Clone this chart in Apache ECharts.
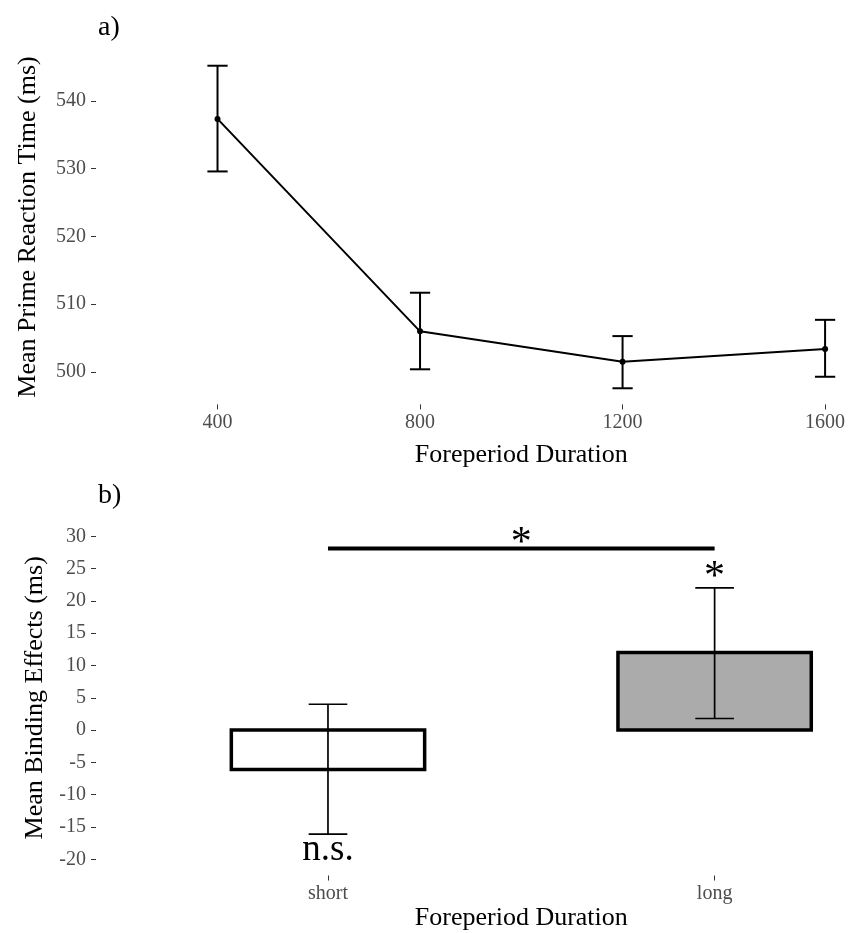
<!DOCTYPE html>
<html><head><meta charset="utf-8">
<script src="https://cdn.jsdelivr.net/npm/echarts@6/dist/echarts.min.js"></script>
<style>html,body{margin:0;padding:0;background:#fff}#c{width:848px;height:933px}</style>
</head><body><div id="c"></div>
<script>
// ---- panel a) data ----
const foreperiods = [400, 800, 1200, 1600];
const primeRT = [537.35, 506.0, 501.5, 503.4];
const primeRTLow = [529.6, 500.4, 497.6, 499.3];
const primeRTHigh = [545.2, 511.7, 505.3, 507.7];
const rtTicks = [500, 510, 520, 530, 540];

// ---- panel b) data ----
const conditions = ['short', 'long'];
const conditionPos = [1, 2];
const binding = [-6.1, 12.0];
const bindingLow = [-16.1, 1.8];
const bindingHigh = [4.0, 22.0];
const bindingFill = ['#ffffff', '#ababab'];
const bindingTicks = [-20, -15, -10, -5, 0, 5, 10, 15, 20, 25, 30];
const sigLine = [1, 2, 28.1];
const annoX = [1.5, 2, 1];
const annoY = [28.85, 23.6, -18.6];
const annoText = ['*', '*', 'n.s.'];
const annoSize = [42, 42, 37];

const FONT = "'Liberation Serif', 'Times New Roman', serif";
const tickColor = '#333333';
const labelColor = '#4d4d4d';

const chart = echarts.init(document.getElementById('c'), null, {renderer: 'canvas'});

function errRender(capW, lw) {
  return function (params, api) {
    const x = api.value(0), lo = api.value(1), hi = api.value(2);
    const pLo = api.coord([x, lo]), pHi = api.coord([x, hi]);
    const c1 = api.coord([x - capW / 2, lo]), c2 = api.coord([x + capW / 2, lo]);
    const half = (c2[0] - c1[0]) / 2;
    const st = {stroke: '#000', lineWidth: lw};
    return {type: 'group', children: [
      {type: 'line', shape: {x1: pLo[0], y1: pLo[1], x2: pHi[0], y2: pHi[1]}, style: st},
      {type: 'line', shape: {x1: pLo[0] - half, y1: pLo[1], x2: pLo[0] + half, y2: pLo[1]}, style: st},
      {type: 'line', shape: {x1: pHi[0] - half, y1: pHi[1], x2: pHi[0] + half, y2: pHi[1]}, style: st}
    ]};
  };
}

const option = {
  backgroundColor: '#ffffff',
  animation: false,
  title: [
    {text: 'a)', left: 93, top: 9, textStyle: {fontFamily: FONT, fontSize: 28, fontWeight: 'normal', color: '#000'}},
    {text: 'b)', left: 93, top: 477, textStyle: {fontFamily: FONT, fontSize: 28, fontWeight: 'normal', color: '#000'}}
  ],
  grid: [
    {left: 96, right: -98.6, top: 49.6, bottom: 528.6, outerBoundsMode: 'none', containLabel: false},
    {left: 96, right: -98.6, top: 520.1, bottom: 57.5, outerBoundsMode: 'none', containLabel: false}
  ],
  xAxis: [
    {
      type: 'value', gridIndex: 0, min: 160, max: 1840,
      name: 'Foreperiod Duration', nameLocation: 'middle', nameGap: 38,
      nameTextStyle: {fontFamily: FONT, fontSize: 26, color: '#000'},
      axisLine: {show: false, onZero: false}, splitLine: {show: false},
      axisTick: {show: true, length: 5, customValues: foreperiods, lineStyle: {color: tickColor, width: 1}},
      axisLabel: {customValues: foreperiods, margin: 8, fontFamily: FONT, fontSize: 20, color: labelColor,
        formatter: v => String(v)}
    },
    {
      type: 'value', gridIndex: 1, min: 0.4, max: 2.6,
      name: 'Foreperiod Duration', nameLocation: 'middle', nameGap: 30,
      nameTextStyle: {fontFamily: FONT, fontSize: 26, color: '#000'},
      axisLine: {show: false, onZero: false}, splitLine: {show: false},
      axisTick: {show: true, length: 5, customValues: conditionPos, lineStyle: {color: tickColor, width: 1}},
      axisLabel: {customValues: conditionPos, margin: 8, fontFamily: FONT, fontSize: 20, color: labelColor,
        formatter: v => conditions[Math.round(v) - 1]}
    }
  ],
  yAxis: [
    {
      type: 'value', gridIndex: 0, min: 495.22, max: 547.58,
      name: 'Mean Prime Reaction Time (ms)', nameLocation: 'middle', nameGap: 55, nameRotate: 90,
      nameTextStyle: {fontFamily: FONT, fontSize: 26, color: '#000'},
      axisLine: {show: false, onZero: false}, splitLine: {show: false},
      axisTick: {show: true, length: 5, customValues: rtTicks, lineStyle: {color: tickColor, width: 1}},
      axisLabel: {customValues: rtTicks, margin: 10, fontFamily: FONT, fontSize: 20, color: labelColor}
    },
    {
      type: 'value', gridIndex: 1, min: -22.5, max: 32.5,
      name: 'Mean Binding Effects (ms)', nameLocation: 'middle', nameGap: 43, nameRotate: 90,
      nameTextStyle: {fontFamily: FONT, fontSize: 26, color: '#000'},
      axisLine: {show: false, onZero: false}, splitLine: {show: false},
      axisTick: {show: true, length: 5, customValues: bindingTicks, lineStyle: {color: tickColor, width: 1}},
      axisLabel: {customValues: bindingTicks, margin: 10, fontFamily: FONT, fontSize: 20, color: labelColor}
    }
  ],
  series: [
    {
      type: 'custom', xAxisIndex: 0, yAxisIndex: 0,
      data: foreperiods.map((x, i) => [x, primeRTLow[i], primeRTHigh[i]]),
      renderItem: errRender(40, 2), z: 2
    },
    {
      type: 'line', xAxisIndex: 0, yAxisIndex: 0,
      data: foreperiods.map((x, i) => [x, primeRT[i]]),
      symbol: 'circle', symbolSize: 6,
      itemStyle: {color: '#000'}, lineStyle: {color: '#000', width: 2}, z: 3
    },
    {
      type: 'custom', xAxisIndex: 1, yAxisIndex: 1,
      data: conditionPos.map((x, i) => [x, binding[i]]),
      renderItem: function (params, api) {
        const x = api.value(0), v = api.value(1);
        const p1 = api.coord([x - 0.25, 0]), p2 = api.coord([x + 0.25, v]);
        return {type: 'rect',
          shape: {x: p1[0], y: Math.min(p1[1], p2[1]), width: p2[0] - p1[0], height: Math.abs(p2[1] - p1[1])},
          style: {fill: bindingFill[params.dataIndex], stroke: '#000', lineWidth: 3.5}};
      }, z: 2
    },
    {
      type: 'custom', xAxisIndex: 1, yAxisIndex: 1,
      data: conditionPos.map((x, i) => [x, bindingLow[i], bindingHigh[i]]),
      renderItem: errRender(0.1, 1.7), z: 3
    },
    {
      type: 'custom', xAxisIndex: 1, yAxisIndex: 1,
      data: [sigLine],
      renderItem: function (params, api) {
        const a = api.coord([api.value(0), api.value(2)]), b = api.coord([api.value(1), api.value(2)]);
        return {type: 'line', shape: {x1: a[0], y1: a[1], x2: b[0], y2: b[1]}, style: {stroke: '#000', lineWidth: 4}};
      }, z: 3
    },
    {
      type: 'custom', xAxisIndex: 1, yAxisIndex: 1,
      data: annoX.map((x, i) => [x, annoY[i]]),
      renderItem: function (params, api) {
        const p = api.coord([api.value(0), api.value(1)]);
        return {type: 'text', x: p[0], y: p[1],
          style: {text: annoText[params.dataIndex], fontFamily: FONT, fontSize: annoSize[params.dataIndex], fill: '#000',
            align: 'center', verticalAlign: 'middle'}};
      }, z: 4
    }
  ]
};
chart.setOption(option);
</script>
</body></html>
